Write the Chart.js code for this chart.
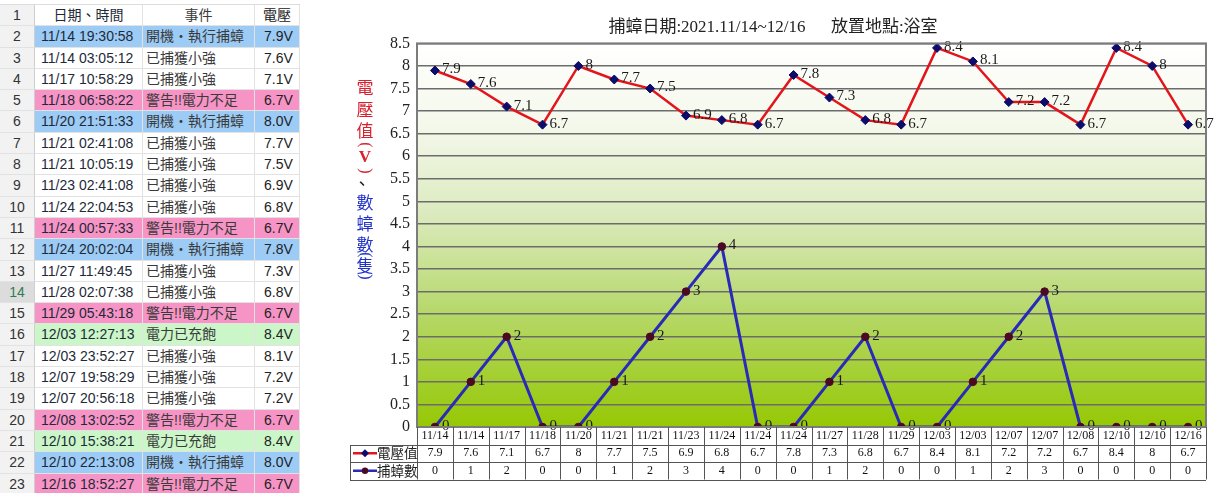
<!DOCTYPE html>
<html>
<head>
<meta charset="utf-8">
<script src="https://cdn.jsdelivr.net/npm/chart.js@4/dist/chart.umd.min.js"></script>
<style>
  html, body { margin: 0; padding: 0; background: #fff; width: 1222px; height: 493px; overflow: hidden; }
  #sheet {
    position: absolute; left: 0; top: 4px; width: 300px;
    display: grid;
    grid-template-columns: 35px 108px 112px 45px;
    grid-auto-rows: 21.3px;
    font-family: "Liberation Sans", "Noto Sans CJK TC", sans-serif;
    font-size: 14px; color: #222;
    border-top: 1px solid #dcdcdc;
  }
  #sheet div {
    box-sizing: border-box; white-space: nowrap; overflow: hidden;
    line-height: 21px; border-bottom: 1px solid #e2e2e2; border-right: 1px solid #e2e2e2;
  }
  #sheet .num { background: #f2f2f2; text-align: center; color: #333; border-right: 1px solid #cfcfcf; }
  #sheet .num.sel { background: #dcdcdc; color: #2f7d4f; }
  #sheet .date { padding-left: 6px; color: #1e2a38; }
  #sheet .evt { padding-left: 3px; color: #3a3a3a; }
  #sheet .volt { padding-left: 9px; color: #222; }
  #sheet .head { text-align: center; padding-left: 0; }
  #sheet .blue { background: #9ccbf6; }
  #sheet .pink { background: #f794c6; }
  #sheet .green { background: #caf6c8; }
  #wrap { position: absolute; left: 340px; top: 0; width: 882px; height: 493px; }
</style>
</head>
<body>
<div id="sheet"></div>
<div id="wrap"><canvas id="c" width="882" height="493"></canvas></div>
<script>
// ---- spreadsheet log ----
const logTimes = ['11/14 19:30:58','11/14 03:05:12','11/17 10:58:29','11/18 06:58:22','11/20 21:51:33',
  '11/21 02:41:08','11/21 10:05:19','11/23 02:41:08','11/24 22:04:53','11/24 00:57:33','11/24 20:02:04',
  '11/27 11:49:45','11/28 02:07:38','11/29 05:43:18','12/03 12:27:13','12/03 23:52:27','12/07 19:58:29',
  '12/07 20:56:18','12/08 13:02:52','12/10 15:38:21','12/10 22:13:08','12/16 18:52:27'];
const logEvents = ['開機・執行捕蟑','已捕獲小強','已捕獲小強','警告!!電力不足','開機・執行捕蟑',
  '已捕獲小強','已捕獲小強','已捕獲小強','已捕獲小強','警告!!電力不足','開機・執行捕蟑',
  '已捕獲小強','已捕獲小強','警告!!電力不足','電力已充飽','已捕獲小強','已捕獲小強',
  '已捕獲小強','警告!!電力不足','電力已充飽','開機・執行捕蟑','警告!!電力不足'];
const logHeaders = ['日期、時間','事件','電壓'];
const eventRowClass = { '開機・執行捕蟑': 'blue', '警告!!電力不足': 'pink', '電力已充飽': 'green', '已捕獲小強': '' };

// ---- chart series ----
const dates = ['11/14','11/14','11/17','11/18','11/20','11/21','11/21','11/23','11/24','11/24','11/24',
  '11/27','11/28','11/29','12/03','12/03','12/07','12/07','12/08','12/10','12/10','12/16'];
const voltage = [7.9,7.6,7.1,6.7,8,7.7,7.5,6.9,6.8,6.7,7.8,7.3,6.8,6.7,8.4,8.1,7.2,7.2,6.7,8.4,8,6.7];
const caught = [0,1,2,0,0,1,2,3,4,0,0,1,2,0,0,1,2,3,0,0,0,0];
const yTicks = [0,0.5,1,1.5,2,2.5,3,3.5,4,4.5,5,5.5,6,6.5,7,7.5,8,8.5];
const titleText = '捕蟑日期:2021.11/14~12/16\u3000  放置地點:浴室';
const seriesNames = ['電壓值','捕蟑數'];

// build the spreadsheet
const sheet = document.getElementById('sheet');
function cell(cls, text) {
  const d = document.createElement('div');
  d.className = cls; d.textContent = text; sheet.appendChild(d);
}
cell('num', '1');
cell('date head', logHeaders[0]);
cell('evt head', logHeaders[1]);
cell('volt head', logHeaders[2]);
logTimes.forEach((t, i) => {
  const rc = eventRowClass[logEvents[i]];
  cell('num' + (i + 2 === 14 ? ' sel' : ''), String(i + 2));
  cell('date ' + rc, t);
  cell('evt ' + rc, logEvents[i]);
  cell('volt ' + rc, voltage[i].toFixed(1) + 'V');
});

// ---- chart ----
const RED = '#e3141c', NAVY = '#0c0c6a', BLUE = '#2a2ab8', MAROON = '#4c0a22';
const TITLE_RED = '#d8202e', TITLE_BLUE = '#2233c8';
const SERIF = '"Liberation Serif", "Noto Sans CJK TC", serif';
const CJK = '"Noto Sans CJK TC", sans-serif';

const plotBackground = {
  id: 'plotBackground',
  beforeDraw(chart) {
    const { ctx, chartArea: a } = chart;
    const g = ctx.createLinearGradient(0, a.top, 0, a.bottom);
    g.addColorStop(0, '#ffffff');
    g.addColorStop(0.22, '#f4f8ea');
    g.addColorStop(0.45, '#dbeabd');
    g.addColorStop(0.7, '#b6d86a');
    g.addColorStop(1, '#96c804');
    ctx.save();
    ctx.fillStyle = g;
    ctx.fillRect(a.left, a.top, a.right - a.left, a.bottom - a.top);
    ctx.restore();
  }
};

const pointLabels = {
  id: 'pointLabels',
  afterDatasetsDraw(chart) {
    const ctx = chart.ctx;
    ctx.save();
    ctx.font = '15px ' + SERIF;
    ctx.fillStyle = '#1a1a1a';
    ctx.textAlign = 'left';
    ctx.textBaseline = 'middle';
    chart.data.datasets.forEach((ds, di) => {
      chart.getDatasetMeta(di).data.forEach((pt, i) => {
        ctx.fillText(String(ds.data[i]), pt.x + 7, pt.y - 1);
      });
    });
    ctx.restore();
  }
};

// vertical axis caption, one glyph per step; brackets are turned sideways
const axisTitle = {
  id: 'axisTitle',
  afterDraw(chart) {
    const ctx = chart.ctx;
    const parts = [
      ['電', TITLE_RED, 0], ['壓', TITLE_RED, 22], ['值', TITLE_RED, 21], ['(', TITLE_RED, 14],
      ['V', TITLE_RED, 13], [')', TITLE_RED, 13], ['、', '#222', 13],
      ['數', TITLE_BLUE, 19], ['蟑', TITLE_BLUE, 21], ['數', TITLE_BLUE, 21],
      ['(', TITLE_BLUE, 10], ['隻', TITLE_BLUE, 11], [')', TITLE_BLUE, 11]
    ];
    ctx.save();
    ctx.textAlign = 'center';
    ctx.textBaseline = 'middle';
    let y = 88;
    parts.forEach(([t, c, dy]) => {
      y += dy;
      ctx.fillStyle = c;
      if (t === '(' || t === ')') {
        ctx.save();
        ctx.translate(25, y);
        ctx.rotate(Math.PI / 2);
        ctx.font = '16px ' + SERIF;
        ctx.fillText(t, 0, 0);
        ctx.restore();
      } else if (t === 'V') {
        ctx.font = 'bold 17px ' + SERIF;
        ctx.fillText(t, 25, y);
      } else {
        ctx.font = '17px ' + CJK;
        ctx.fillText(t, t === '、' ? 22 : 25, y);
      }
    });
    ctx.restore();
  }
};

const dataTable = {
  id: 'dataTable',
  afterDraw(chart) {
    const { ctx, chartArea: a } = chart;
    const n = dates.length;
    const cw = (a.right - a.left) / n;
    const rowH = 17.5;
    const b = a.bottom;
    const headLeft = 10;
    ctx.save();
    // plot frame
    ctx.strokeStyle = '#7c7c7c';
    ctx.lineWidth = 2;
    ctx.strokeRect(a.left, a.top, a.right - a.left, a.bottom - a.top);
    // table grid
    ctx.strokeStyle = '#555';
    ctx.lineWidth = 1;
    ctx.beginPath();
    for (let i = 0; i <= n; i++) {
      const x = Math.round(a.left + i * cw) + 0.5;
      ctx.moveTo(x, b); ctx.lineTo(x, b + rowH * 3);
    }
    for (let r = 1; r <= 3; r++) {
      const y = Math.round(b + rowH * r) + 0.5;
      ctx.moveTo(headLeft, y); ctx.lineTo(a.right, y);
    }
    ctx.moveTo(headLeft + 0.5, Math.round(b + rowH) + 0.5);
    ctx.lineTo(headLeft + 0.5, Math.round(b + rowH * 3) + 0.5);
    ctx.stroke();
    // legend keys in the header column
    const keys = [[RED, NAVY, 'diamond'], [BLUE, MAROON, 'circle']];
    keys.forEach(([lc, pc, ps], k) => {
      const y = b + rowH * (k + 1.5);
      ctx.strokeStyle = lc; ctx.lineWidth = 2.5;
      ctx.beginPath(); ctx.moveTo(headLeft + 3, y); ctx.lineTo(headLeft + 27, y); ctx.stroke();
      ctx.fillStyle = pc;
      ctx.beginPath();
      if (ps === 'circle') { ctx.arc(headLeft + 15, y, 3.2, 0, Math.PI * 2); }
      else { ctx.moveTo(headLeft + 15, y - 4); ctx.lineTo(headLeft + 19, y); ctx.lineTo(headLeft + 15, y + 4); ctx.lineTo(headLeft + 11, y); ctx.closePath(); }
      ctx.fill();
      ctx.font = '13.5px ' + CJK;
      ctx.fillStyle = '#222';
      ctx.textAlign = 'left'; ctx.textBaseline = 'middle';
      ctx.fillText(seriesNames[k], headLeft + 27, y);
    });
    ctx.restore();
  }
};

new Chart(document.getElementById('c'), {
  type: 'line',
  data: {
    labels: dates.map((d, i) => [d, String(voltage[i]), String(caught[i])]),
    datasets: [
      { label: seriesNames[0], data: voltage, borderColor: RED, borderWidth: 2.5, tension: 0,
        pointStyle: 'rectRot', pointRadius: 4.5, pointBackgroundColor: NAVY, pointBorderColor: NAVY, pointBorderWidth: 1 },
      { label: seriesNames[1], data: caught, borderColor: BLUE, borderWidth: 3, tension: 0,
        pointStyle: 'circle', pointRadius: 3.8, pointBackgroundColor: MAROON, pointBorderColor: MAROON, pointBorderWidth: 1 }
    ]
  },
  options: {
    responsive: false,
    animation: false,
    events: [],
    layout: { padding: { left: 0, right: 16, top: 0, bottom: 13 } },
    plugins: {
      legend: { display: false },
      tooltip: { enabled: false },
      title: {
        display: true, text: titleText, color: '#222',
        font: { family: SERIF, size: 17, weight: 'normal' },
        padding: { top: 17, bottom: 6 }
      }
    },
    scales: {
      x: {
        offset: true,
        grid: { display: false, drawTicks: false },
        border: { display: false },
        ticks: { autoSkip: false, maxRotation: 0, minRotation: 0, padding: 0, color: '#111',
          font: { family: SERIF, size: 12, lineHeight: 1.46 } },
        afterFit(s) { s.height = 53; }
      },
      y: {
        min: 0, max: 8.5,
        afterBuildTicks(s) { s.ticks = yTicks.map(v => ({ value: v })); },
        grid: { color: '#6c6c6c', lineWidth: 1.5, drawTicks: false },
        border: { display: false },
        ticks: { padding: 7, color: '#222', font: { family: SERIF, size: 16 },
          callback: v => String(v) },
        afterFit(s) { s.width = 77; }
      }
    }
  },
  plugins: [plotBackground, pointLabels, axisTitle, dataTable]
});
</script>
</body>
</html>
